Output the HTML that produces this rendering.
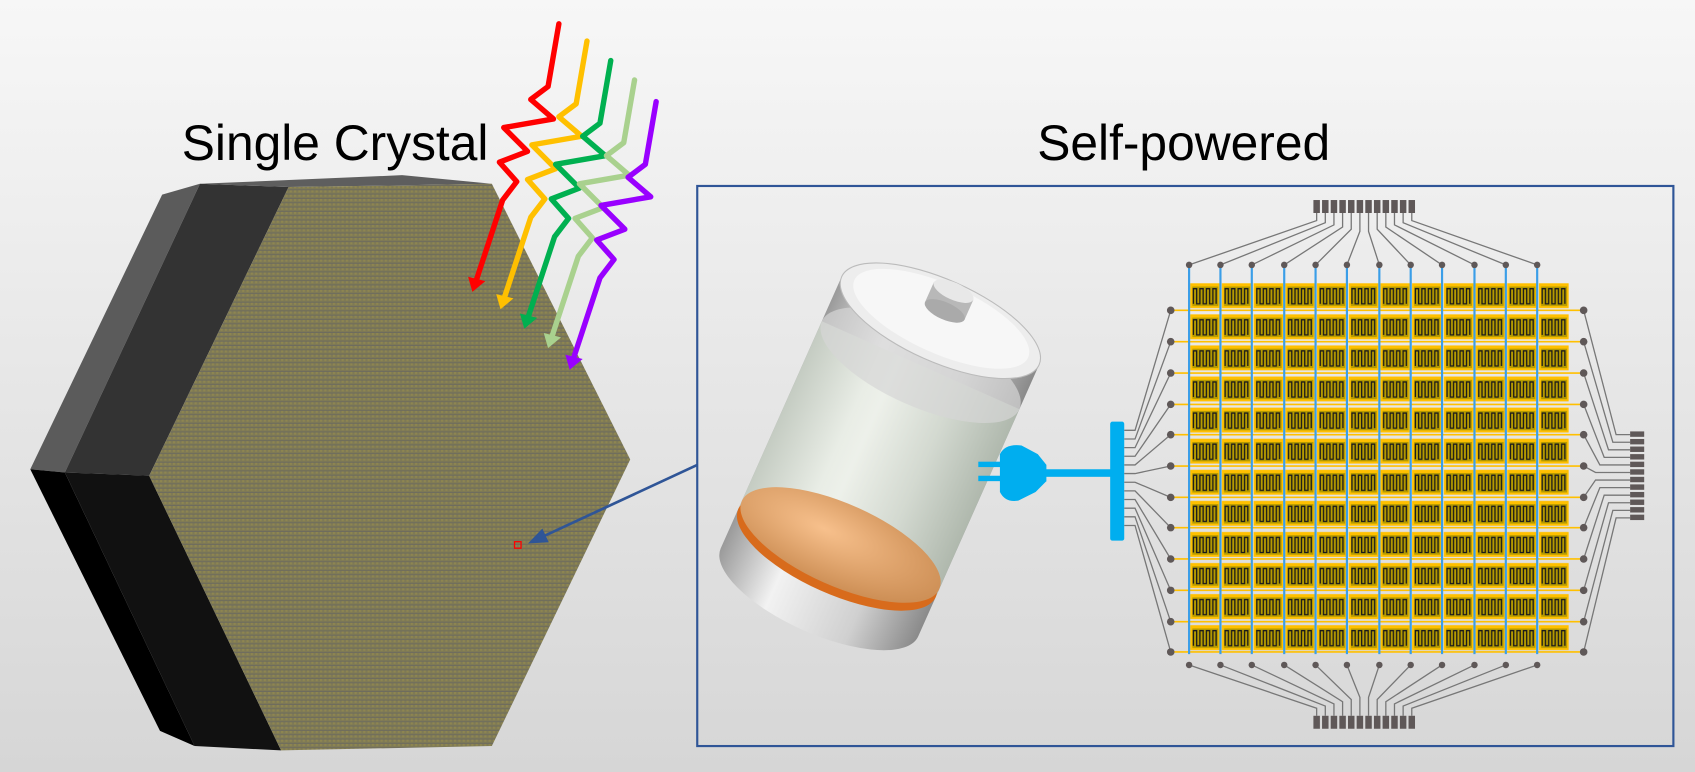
<!DOCTYPE html>
<html><head><meta charset="utf-8"><style>
html,body{margin:0;padding:0;width:1695px;height:772px;overflow:hidden}
svg{display:block}
</style></head><body>
<svg width="1695" height="772" viewBox="0 0 1568 714" preserveAspectRatio="none" xmlns="http://www.w3.org/2000/svg">
<defs>
<linearGradient id="bg" x1="0" y1="0" x2="0" y2="1"><stop offset="0" stop-color="#f7f7f7"/><stop offset="1" stop-color="#d6d6d6"/></linearGradient>
<pattern id="tex" width="4" height="4" patternUnits="userSpaceOnUse"><rect width="4" height="4" fill="#7f7a55"/><rect width="2" height="2" fill="#8e8650"/><rect x="0" y="3" width="4" height="1" fill="#6e6c5e"/></pattern>
<pattern id="cell" x="1100" y="260" width="29.33" height="28.75" patternUnits="userSpaceOnUse">
<rect x="1" y="2" width="27.5" height="23" fill="#ffc000"/>
<rect x="3" y="5" width="24" height="18" fill="#b59a00"/>
<path d="M4 21V7h3v14h3V7h3v14h3V7h3v14h3V7h3v14" fill="none" stroke="#1a1a1a" stroke-width="1.2"/>
</pattern>
<linearGradient id="silver" x1="0" y1="0" x2="1" y2="0"><stop offset="0" stop-color="#9a9a9a"/><stop offset=".3" stop-color="#f2f2f2"/><stop offset=".7" stop-color="#d0d0d0"/><stop offset="1" stop-color="#8a8a8a"/></linearGradient>
<linearGradient id="glass" x1="0" y1="0" x2="1" y2="0"><stop offset="0" stop-color="#cfd8cc" stop-opacity=".8"/><stop offset=".4" stop-color="#eef2ea" stop-opacity=".8"/><stop offset="1" stop-color="#b9c4b6" stop-opacity=".8"/></linearGradient>
<radialGradient id="copper" cx=".4" cy=".4" r=".7"><stop offset="0" stop-color="#f7c08c"/><stop offset="1" stop-color="#c98a50"/></radialGradient>
<marker id="ah" markerWidth="18" markerHeight="14" refX="14" refY="7" orient="auto" markerUnits="userSpaceOnUse"><path d="M0,0L18,7L0,14z" fill="#2f5597"/></marker>
</defs>
<rect width="1568" height="714" fill="url(#bg)"/>

<polygon points="150,180 185,170 60,437 28,434" fill="#5b5b5b"/>
<polygon points="185,170 267,173 138,440 60,437" fill="#333"/>
<polygon points="28,434 60,437 180,690 148,676" fill="#000"/>
<polygon points="60,437 138,440 260,694 180,690" fill="#111"/>
<polygon points="185,170 372,162 455,170 267,173" fill="#5e5e5e"/>
<polygon points="267,173 455,170 583,425 455,690 260,694 138,440" fill="url(#tex)"/>

<text x="310" y="148" font-family="Liberation Sans, sans-serif" font-size="46" text-anchor="middle" fill="#000">Single Crystal</text>
<text x="1095" y="148" font-family="Liberation Sans, sans-serif" font-size="46" text-anchor="middle" fill="#000">Self-powered</text>

<g fill="none" stroke-width="5" stroke-linejoin="round" stroke-linecap="round">
<g><path d="M517,22 L507,80 L491,92 L512,110 L466,118 L488,140 L462,150 L478,168 L465,185 L441,258" stroke="#ff0000"/><polygon points="433,256 449,260 437,270" fill="#ff0000" stroke="none"/></g>
<g transform="translate(26,16)"><path d="M517,22 L507,80 L491,92 L512,110 L466,118 L488,140 L462,150 L478,168 L465,185 L441,258" stroke="#ffc000"/><polygon points="433,256 449,260 437,270" fill="#ffc000" stroke="none"/></g>
<g transform="translate(48,34)"><path d="M517,22 L507,80 L491,92 L512,110 L466,118 L488,140 L462,150 L478,168 L465,185 L441,258" stroke="#00b050"/><polygon points="433,256 449,260 437,270" fill="#00b050" stroke="none"/></g>
<g transform="translate(70,52)"><path d="M517,22 L507,80 L491,92 L512,110 L466,118 L488,140 L462,150 L478,168 L465,185 L441,258" stroke="#a9d18e"/><polygon points="433,256 449,260 437,270" fill="#a9d18e" stroke="none"/></g>
<g transform="translate(90,72)"><path d="M517,22 L507,80 L491,92 L512,110 L466,118 L488,140 L462,150 L478,168 L465,185 L441,258" stroke="#9900ff"/><polygon points="433,256 449,260 437,270" fill="#9900ff" stroke="none"/></g>
</g>

<rect x="476" y="501" width="6" height="6" fill="none" stroke="#ff0000" stroke-width="1.2"/>
<line x1="645" y1="430" x2="492" y2="501" stroke="#2f5597" stroke-width="2.5" marker-end="url(#ah)"/>
<rect x="645" y="172" width="903" height="518" fill="none" stroke="#2f5597" stroke-width="2"/>

<g transform="rotate(24 815 420)">
<path d="M715,285 L715,560 A100,38 0 0 0 915,560 L915,285 Z" fill="url(#silver)"/>
<rect x="715" y="330" width="200" height="190" fill="url(#glass)"/>
<ellipse cx="815" cy="520" rx="100" ry="38" fill="#d86b1c"/>
<ellipse cx="815" cy="512" rx="100" ry="38" fill="url(#copper)"/>
<ellipse cx="815" cy="330" rx="100" ry="38" fill="#d6d6d6" opacity=".7"/>
<ellipse cx="815" cy="285" rx="100" ry="38" fill="#ededed" stroke="#bbb"/>
<ellipse cx="815" cy="283" rx="88" ry="32" fill="#f7f7f7"/>
<rect x="795" y="255" width="40" height="20" fill="#b8b8b8"/>
<ellipse cx="815" cy="275" rx="20" ry="8" fill="#aaa"/>
<ellipse cx="815" cy="255" rx="20" ry="8" fill="#e8e8e8"/>
</g>

<rect x="905" y="427" width="22" height="5" fill="#00aeef"/>
<rect x="905" y="440" width="22" height="5" fill="#00aeef"/>
<path d="M925,420 Q930,410 945,412 L960,420 L968,430 L968,445 L958,455 L942,463 Q930,465 925,455 Z" fill="#00aeef"/>
<rect x="966" y="434" width="62" height="7" fill="#00aeef"/>
<rect x="1027" y="390" width="13" height="110" rx="2" fill="#00aeef"/>

<g stroke="#777" stroke-width="1.2" fill="none">
<path d="M1040,398H1050L1083,287M1040,406H1050L1083,316M1040,414H1050L1083,345M1040,422H1050L1083,374M1040,430H1050L1083,402M1040,438H1050L1083,431M1040,446H1050L1083,460M1040,454H1050L1083,488M1040,462H1050L1083,517M1040,470H1050L1083,546M1040,478H1050L1083,575M1040,486H1050L1083,603"/>
<path d="M1508,402H1495L1465,287M1508,409H1492L1465,316M1508,416H1488L1465,345M1508,423H1484L1465,374M1508,430H1480L1465,402M1508,437H1476L1465,431M1508,444H1476L1465,460M1508,451H1480L1465,488M1508,458H1484L1465,517M1508,465H1488L1465,546M1508,472H1492L1465,575M1508,479H1495L1465,603"/>
<path d="M1218,197V204L1100,245M1226,197V206L1129,245M1234,197V208L1158,245M1242,197V210L1188,245M1250,197V212L1217,245M1258,197V214L1246,245M1266,197V214L1276,245M1274,197V212L1305,245M1282,197V210L1334,245M1290,197V208L1364,245M1298,197V206L1393,245M1306,197V204L1422,245"/>
<path d="M1218,662V655L1100,615M1226,662V653L1129,615M1234,662V651L1158,615M1242,662V649L1188,615M1250,662V647L1217,615M1258,662V645L1246,615M1266,662V645L1276,615M1274,662V647L1305,615M1282,662V649L1334,615M1290,662V651L1364,615M1298,662V653L1393,615M1306,662V655L1422,615"/>
</g>
<g fill="#5f5858">
<rect x="1215" y="185" width="6" height="12"/><rect x="1223" y="185" width="6" height="12"/><rect x="1231" y="185" width="6" height="12"/><rect x="1239" y="185" width="6" height="12"/><rect x="1247" y="185" width="6" height="12"/><rect x="1255" y="185" width="6" height="12"/><rect x="1263" y="185" width="6" height="12"/><rect x="1271" y="185" width="6" height="12"/><rect x="1279" y="185" width="6" height="12"/><rect x="1287" y="185" width="6" height="12"/><rect x="1295" y="185" width="6" height="12"/><rect x="1303" y="185" width="6" height="12"/>
<rect x="1215" y="662" width="6" height="12"/><rect x="1223" y="662" width="6" height="12"/><rect x="1231" y="662" width="6" height="12"/><rect x="1239" y="662" width="6" height="12"/><rect x="1247" y="662" width="6" height="12"/><rect x="1255" y="662" width="6" height="12"/><rect x="1263" y="662" width="6" height="12"/><rect x="1271" y="662" width="6" height="12"/><rect x="1279" y="662" width="6" height="12"/><rect x="1287" y="662" width="6" height="12"/><rect x="1295" y="662" width="6" height="12"/><rect x="1303" y="662" width="6" height="12"/>
<rect x="1508" y="399" width="13" height="5"/><rect x="1508" y="406" width="13" height="5"/><rect x="1508" y="413" width="13" height="5"/><rect x="1508" y="420" width="13" height="5"/><rect x="1508" y="427" width="13" height="5"/><rect x="1508" y="434" width="13" height="5"/><rect x="1508" y="441" width="13" height="5"/><rect x="1508" y="448" width="13" height="5"/><rect x="1508" y="455" width="13" height="5"/><rect x="1508" y="462" width="13" height="5"/><rect x="1508" y="469" width="13" height="5"/><rect x="1508" y="476" width="13" height="5"/>
</g>
<rect x="1100" y="260" width="352" height="345" fill="url(#cell)"/>
<g stroke="#ffc000" stroke-width="1.5">
<path d="M1083,287H1465M1083,316H1465M1083,345H1465M1083,374H1465M1083,402H1465M1083,431H1465M1083,460H1465M1083,488H1465M1083,517H1465M1083,546H1465M1083,575H1465M1083,603H1465"/>
</g>
<g stroke="#3a9ee8" stroke-width="2">
<path d="M1100,245V605M1129,245V605M1158,245V605M1188,245V605M1217,245V605M1246,245V605M1276,245V605M1305,245V605M1334,245V605M1364,245V605M1393,245V605M1422,245V605"/>
</g>
<g fill="#5f5858">
<circle cx="1083" cy="287" r="3.5"/><circle cx="1083" cy="316" r="3.5"/><circle cx="1083" cy="345" r="3.5"/><circle cx="1083" cy="374" r="3.5"/><circle cx="1083" cy="402" r="3.5"/><circle cx="1083" cy="431" r="3.5"/><circle cx="1083" cy="460" r="3.5"/><circle cx="1083" cy="488" r="3.5"/><circle cx="1083" cy="517" r="3.5"/><circle cx="1083" cy="546" r="3.5"/><circle cx="1083" cy="575" r="3.5"/><circle cx="1083" cy="603" r="3.5"/>
<circle cx="1465" cy="287" r="3.5"/><circle cx="1465" cy="316" r="3.5"/><circle cx="1465" cy="345" r="3.5"/><circle cx="1465" cy="374" r="3.5"/><circle cx="1465" cy="402" r="3.5"/><circle cx="1465" cy="431" r="3.5"/><circle cx="1465" cy="460" r="3.5"/><circle cx="1465" cy="488" r="3.5"/><circle cx="1465" cy="517" r="3.5"/><circle cx="1465" cy="546" r="3.5"/><circle cx="1465" cy="575" r="3.5"/><circle cx="1465" cy="603" r="3.5"/>
<circle cx="1100" cy="245" r="3"/><circle cx="1129" cy="245" r="3"/><circle cx="1158" cy="245" r="3"/><circle cx="1188" cy="245" r="3"/><circle cx="1217" cy="245" r="3"/><circle cx="1246" cy="245" r="3"/><circle cx="1276" cy="245" r="3"/><circle cx="1305" cy="245" r="3"/><circle cx="1334" cy="245" r="3"/><circle cx="1364" cy="245" r="3"/><circle cx="1393" cy="245" r="3"/><circle cx="1422" cy="245" r="3"/>
<circle cx="1100" cy="615" r="3"/><circle cx="1129" cy="615" r="3"/><circle cx="1158" cy="615" r="3"/><circle cx="1188" cy="615" r="3"/><circle cx="1217" cy="615" r="3"/><circle cx="1246" cy="615" r="3"/><circle cx="1276" cy="615" r="3"/><circle cx="1305" cy="615" r="3"/><circle cx="1334" cy="615" r="3"/><circle cx="1364" cy="615" r="3"/><circle cx="1393" cy="615" r="3"/><circle cx="1422" cy="615" r="3"/>
</g>
</svg>
</body></html>
